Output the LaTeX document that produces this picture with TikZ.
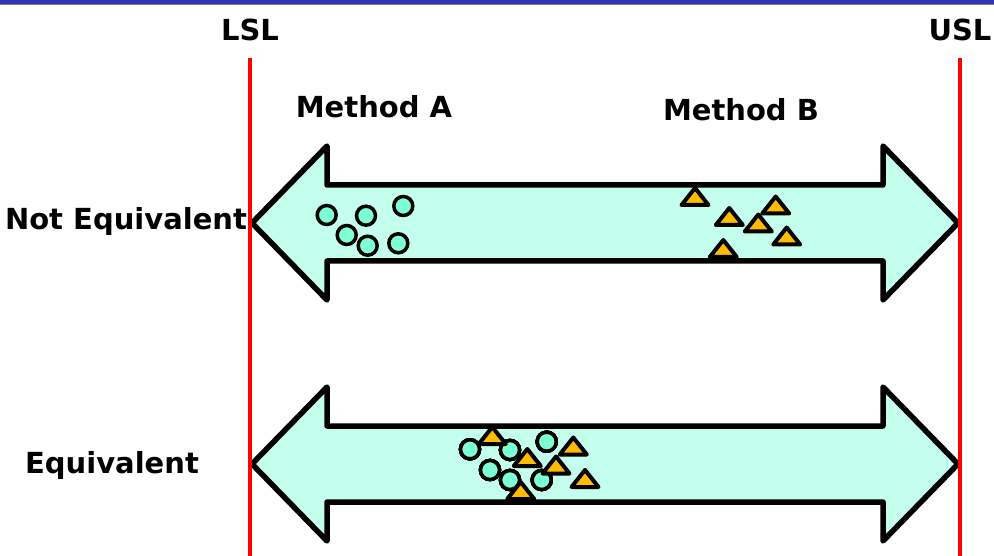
\documentclass[tikz,border=0pt]{standalone}
\usepackage{fontspec}
\setmainfont{DejaVu Sans}
\definecolor{shaftfill}{RGB}{196,255,238}
\definecolor{dotfill}{RGB}{127,255,212}
\definecolor{trifill}{RGB}{255,187,0}
\definecolor{barblue}{RGB}{51,51,187}
\tikzset{
  label/.style={font=\fontsize{29}{33}\selectfont\bfseries},
  wide/.style={draw=black,line width=5.5,line join=round,fill=shaftfill},
  limit/.style={draw=red,line width=3.5},
  dot/.style={draw=black,line width=3.5,fill=dotfill},
  tri/.style={draw=black,line width=4,line join=round,fill=trifill}
}
\newcommand{\widearrow}[1]{%
  \draw[wide] (252,#1) -- (327,#1-77) -- (327,#1-38) -- (883,#1-38) -- (883,#1-77)
    -- (958,#1) -- (883,#1+77) -- (883,#1+38) -- (327,#1+38) -- (327,#1+77) -- cycle;}
\newcommand{\tripos}[2]{\draw[tri] (#1-13.5,#2) -- (#1,#2-17) -- (#1+13.5,#2) -- cycle;}
\begin{document}
\begin{tikzpicture}[x=1pt,y=-1pt]
\useasboundingbox (0,0) rectangle (994,556);
\fill[barblue] (0,0) rectangle (994,4);
\draw[gray,line width=1] (0,5) -- (994,5);
\widearrow{223}
\widearrow{464}
\foreach \cx/\cy in {326.7/215,366/215.7,403.3/206,346.7/235,367.7/245.7,398.3/243.3}
  \draw[dot] (\cx,\cy) circle (9.5);
\foreach \tx/\ty in {695/205,729.3/225,775.7/213.5,758.3/231.5,786.7/244.5,723.3/257}
  \tripos{\tx}{\ty}
\foreach \cx/\cy in {470/449.3,510/450,546.7/441.7,490/470,510/480,541.7/480}
  \draw[dot] (\cx,\cy) circle (9.5);
\foreach \tx/\ty in {492.3/444,527.3/466,573.3/454.5,556/473.5,585/487,520.7/499}
  \tripos{\tx}{\ty}
\coordinate (lsltop) at (250,58);
\coordinate (lslbot) at (250,556);
\coordinate (usltop) at (960,58);
\coordinate (uslbot) at (960,556);
\draw[limit] (lsltop) -- (lslbot);
\draw[limit] (usltop) -- (uslbot);
\node[label] (lsl) at (250,30) {LSL};
\node[label] (usl) at (960,30) {USL};
\node[label] (metha) at (374,107) {Method A};
\node[label] (methb) at (741,110) {Method B};
\node[label] (noteq) at (126,222) {Not Equivalent};
\node[label] (equiv) at (112,465) {Equivalent};
\end{tikzpicture}
\end{document}
